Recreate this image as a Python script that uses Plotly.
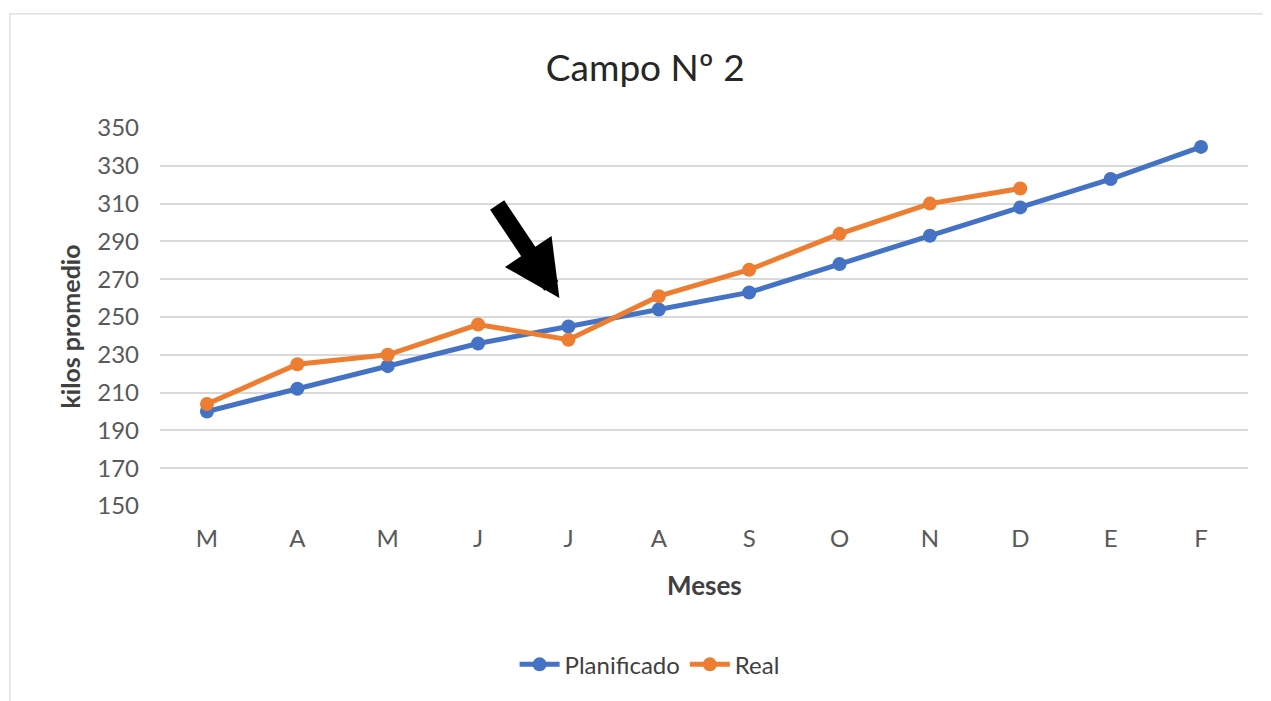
import plotly.graph_objects as go

months = ["M", "A", "M", "J", "J", "A", "S", "O", "N", "D", "E", "F"]
planificado = [200, 212, 224, 236, 245, 254, 263, 278, 293, 308, 323, 340]
real = [204, 225, 230, 246, 238, 261, 275, 294, 310, 318]
y_ticks = [150, 170, 190, 210, 230, 250, 270, 290, 310, 330, 350]

xs = list(range(len(months)))

fig = go.Figure()
fig.add_trace(go.Scatter(
    x=xs, y=planificado, name="Planificado", mode="lines+markers",
    line=dict(color="#4472C4", width=5),
    marker=dict(color="#4472C4", size=14),
))
fig.add_trace(go.Scatter(
    x=xs[:len(real)], y=real, name="Real", mode="lines+markers",
    line=dict(color="#ED7D31", width=5),
    marker=dict(color="#ED7D31", size=14),
))

# arrow pointing at the July crossing
fig.add_annotation(
    x=3.9, y=260, ax=3.2, ay=310, xref="x", yref="y", axref="x", ayref="y",
    showarrow=True, arrowhead=2, arrowsize=0.66, arrowwidth=17, arrowcolor="#000000",
    text="",
)

# axis titles
fig.add_annotation(
    text="Meses", xref="paper", yref="paper", x=0.5, y=-0.209,
    xanchor="center", yanchor="middle", showarrow=False,
    font=dict(size=26, color="#404040", weight="bold"),
)
fig.add_annotation(
    text="kilos promedio", xref="paper", yref="paper", x=-0.083, y=0.474,
    xanchor="center", yanchor="middle", showarrow=False, textangle=-90,
    font=dict(size=25, color="#404040", weight="bold"),
)

# outer chart border (only top and left edges visible)
fig.add_shape(
    type="rect", xref="paper", yref="paper",
    x0=-0.138, x1=1.2, y0=-0.7, y1=1.302,
    line=dict(color="#e0e0e0", width=1.5), fillcolor="rgba(0,0,0,0)", layer="below",
)

fig.update_layout(
    width=1271, height=701,
    paper_bgcolor="white", plot_bgcolor="white",
    margin=dict(l=152, r=31, t=120, b=203),
    font=dict(family="Lato, 'Open Sans', sans-serif", color="#595959"),
    title=dict(text="Campo Nº 2", x=0.446, xref="paper", xanchor="center",
               y=0.915, yanchor="middle",
               font=dict(size=37, color="#262626")),
    showlegend=True,
    legend=dict(orientation="h", x=0.45, xanchor="center", y=-0.42, yanchor="middle",
                font=dict(size=24, color="#404040"), itemwidth=40),
    xaxis=dict(
        tickmode="array", tickvals=xs, ticktext=months, range=[-0.52, 11.52],
        showgrid=False, zeroline=False, showline=False, ticks="",
        tickfont=dict(size=24, color="#595959"), ticklabelstandoff=16,
    ),
    yaxis=dict(
        range=[150, 350], tickmode="array", tickvals=y_ticks,
        showgrid=True, gridcolor="#d9d9d9", gridwidth=1.5, zeroline=False,
        showline=False, ticks="",
        tickfont=dict(size=24, color="#595959"), ticklabelstandoff=20,
    ),
)

fig.write_html("out.html")
